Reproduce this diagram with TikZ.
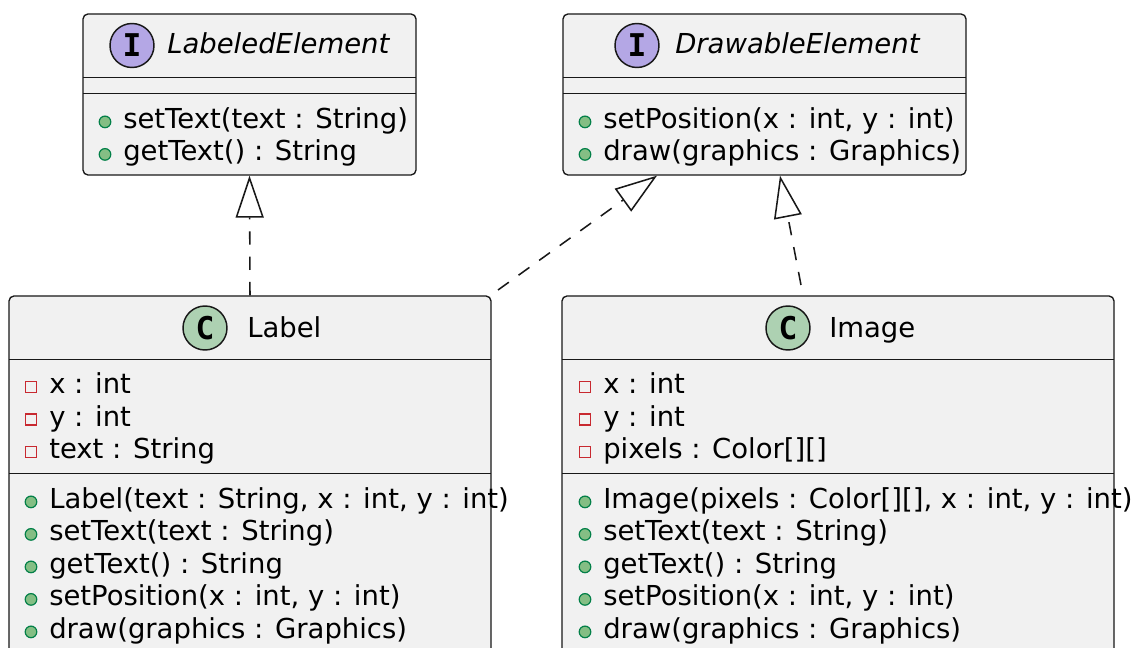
\documentclass[tikz,border=0pt]{standalone}
\usepackage{fontspec}
\setmainfont{DejaVu Sans}[ItalicFont={DejaVu Sans Oblique},BoldFont={DejaVu Sans Bold}]
\newfontfamily\spotfont{DejaVu Sans Mono Bold}
\usetikzlibrary{arrows.meta,calc,fit}
\definecolor{boxfill}{HTML}{F1F1F1}
\definecolor{boxline}{HTML}{181818}
\definecolor{ifspot}{HTML}{B4A7E5}
\definecolor{clspot}{HTML}{ADD1B2}
\definecolor{pubfill}{HTML}{84BE84}
\definecolor{publine}{HTML}{038048}
\definecolor{privline}{HTML}{C82930}
\newcommand\umlfs{\fontsize{20.6pt}{24pt}\selectfont}
\tikzset{
  umlbox/.style={draw=boxline, fill=boxfill, line width=1pt, rounded corners=3.75pt, inner sep=0pt},
  sepline/.style={draw=boxline, line width=0.8pt},
  member/.style={anchor=base west, inner sep=0pt, font=\umlfs, text=black},
  spot/.style={circle, draw=boxline, line width=1.1pt, minimum size=33pt, inner sep=0pt, font=\spotfont\fontsize{23.5pt}{23.5pt}\selectfont},
  pubicon/.style={fill=pubfill, draw=publine, line width=0.9pt},
  privicon/.style={draw=privline, line width=1pt},
  impl/.style={draw=boxline, line width=1.15pt, dash pattern=on 10pt off 9pt,
    -{Triangle[open, length=31.5pt, width=21pt]}}
}
\newcommand\umlpub[4]{%
  \filldraw[pubicon] ({#2-18},{#3-6.6}) circle (5.8);
  \node[member] (#1) at (#2,#3) {#4};}
\newcommand\umlpriv[4]{%
  \draw[privicon] ({#2-23.5},{#3-12.5}) rectangle ({#2-12.5},{#3-1.5});
  \node[member] (#1) at (#2,#3) {#4};}
\begin{document}
\begin{tikzpicture}[x=0.75pt, y=-0.75pt]
\useasboundingbox (0,0) rectangle (1133,648);
\clip (0,0) rectangle (1133,648);
\fill[white] (0,0) rectangle (1133,648);

% ---------- LabeledElement ----------
\node[umlbox, fit={(83,14) (416,175)}] (LE) {};
\node[spot, fill=ifspot] (LEs) at (132,45.5) {I};
\node[member] (LEt) at (167,54) {\itshape LabeledElement};
\draw[sepline] (83,77.5) -- (416,77.5);
\draw[sepline] (83,93.5) -- (416,93.5);
\umlpub{LEm1}{123}{128.5}{setText(text : String)}
\umlpub{LEm2}{123}{161}{getText() : String}

% ---------- DrawableElement ----------
\node[umlbox, fit={(563,14) (966,175)}] (DE) {};
\node[spot, fill=ifspot] (DEs) at (637,45.5) {I};
\node[member] (DEt) at (675,54) {\itshape DrawableElement};
\draw[sepline] (563,77.5) -- (966,77.5);
\draw[sepline] (563,93.5) -- (966,93.5);
\umlpub{DEm1}{603}{128.5}{setPosition(x : int, y : int)}
\umlpub{DEm2}{603}{161}{draw(graphics : Graphics)}

% ---------- Label ----------
\node[umlbox, fit={(9,296) (491,690)}] (LB) {};
\node[spot, fill=clspot] (LBs) at (205,328) {C};
\node[member] (LBt) at (247,338) {Label};
\draw[sepline] (9,359.5) -- (491,359.5);
\umlpriv{LBa1}{49}{394}{x : int}
\umlpriv{LBa2}{49}{426.5}{y : int}
\umlpriv{LBa3}{49}{459}{text : String}
\draw[sepline] (9,473.5) -- (491,473.5);
\umlpub{LBm1}{49}{508.5}{Label(text : String, x : int, y : int)}
\umlpub{LBm2}{49}{541}{setText(text : String)}
\umlpub{LBm3}{49}{573.5}{getText() : String}
\umlpub{LBm4}{49}{606}{setPosition(x : int, y : int)}
\umlpub{LBm5}{49}{638.5}{draw(graphics : Graphics)}

% ---------- Image ----------
\node[umlbox, fit={(562,296) (1114,690)}] (IM) {};
\node[spot, fill=clspot] (IMs) at (788,328) {C};
\node[member] (IMt) at (829,338) {Image};
\draw[sepline] (562,359.5) -- (1114,359.5);
\umlpriv{IMa1}{603}{394}{x : int}
\umlpriv{IMa2}{603}{426.5}{y : int}
\umlpriv{IMa3}{603}{459}{pixels : Color[][]}
\draw[sepline] (562,473.5) -- (1114,473.5);
\umlpub{IMm1}{603}{508.5}{Image(pixels : Color[][], x : int, y : int)}
\umlpub{IMm2}{603}{541}{setText(text : String)}
\umlpub{IMm3}{603}{573.5}{getText() : String}
\umlpub{IMm4}{603}{606}{setPosition(x : int, y : int)}
\umlpub{IMm5}{603}{638.5}{draw(graphics : Graphics)}

% ---------- realizations ----------
\coordinate (t2) at (498,290);
\coordinate (t3) at (801,285);
\draw[impl] (LB.north) -- (LE.south);
\draw[impl] (t2) -- ($(DE.south)+(-107.5,0)$);
\draw[impl] (t3) -- ($(DE.south)+(15.5,0)$);
\end{tikzpicture}
\end{document}
